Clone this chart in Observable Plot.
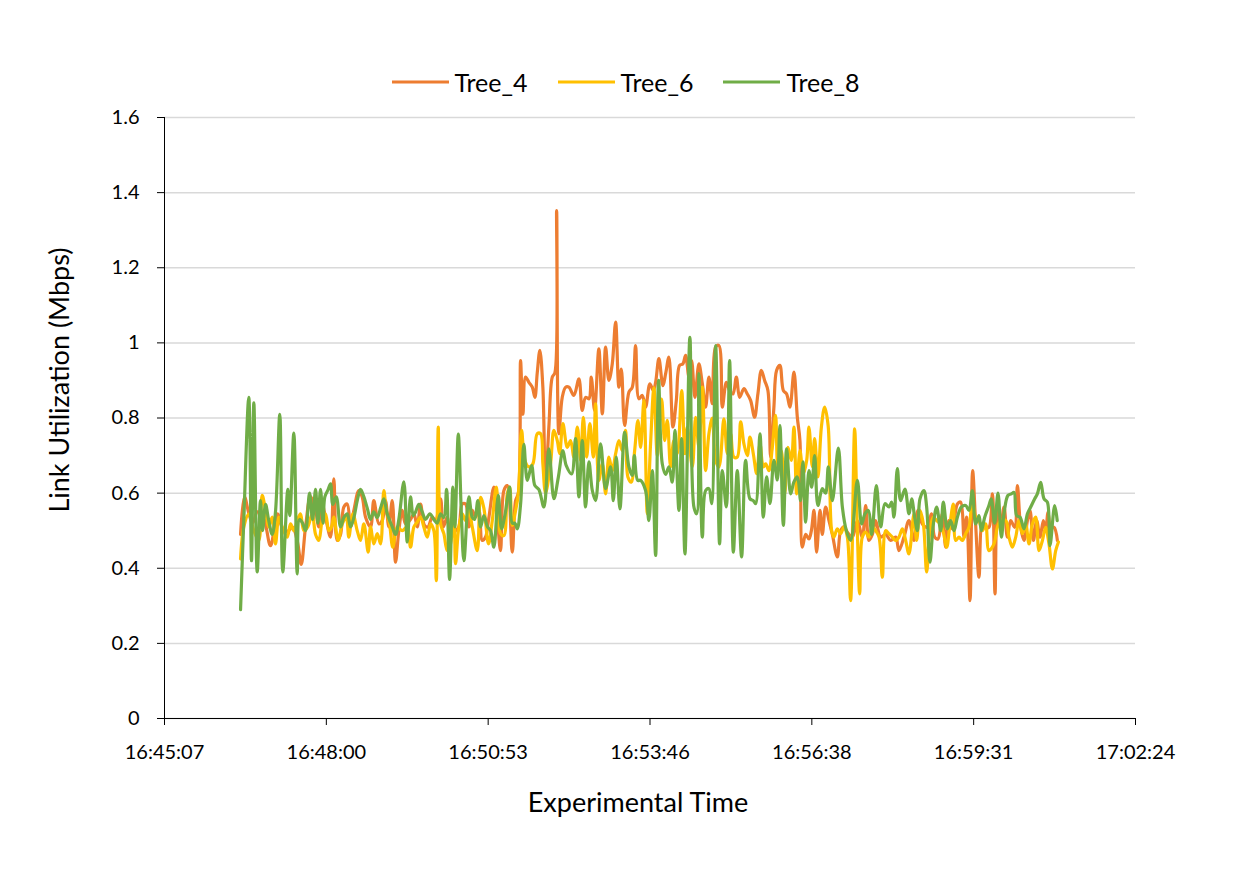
<!DOCTYPE html>
<html><head><meta charset="utf-8">
<script src="https://cdn.jsdelivr.net/npm/d3@7"></script>
<script src="https://cdn.jsdelivr.net/npm/@observablehq/plot@0.6"></script>
<style>
body{margin:0;background:#fff;font-family:Lato,"Open Sans",sans-serif;color:#000;}
#legend{position:relative;width:1241px;height:100px;}
#legend .row{position:absolute;left:10px;right:0;top:82px;transform:translateY(-50%);display:flex;justify-content:center;align-items:center;}
#legend .item{display:flex;align-items:center;margin:0 15px;font-size:25px;line-height:1;}
#legend .sw{display:inline-block;width:57px;height:3px;margin-right:6px;}
</style></head><body>
<div id="legend"><div class="row"></div></div>
<div id="chart"></div>
<script>
// Series names & colours
const seriesNames = ["Tree_4", "Tree_6", "Tree_8"];
const seriesColors = ["#ED7D31", "#FFC000", "#70AD47"];
// Axis ticks (x in seconds since 16:45:07; major unit = 172.8 s)
const xTickLabels = ["16:45:07", "16:48:00", "16:50:53", "16:53:46", "16:56:38", "16:59:31", "17:02:24"];
const xTickStep = 172.8;
const yTicks = [0, 0.2, 0.4, 0.6, 0.8, 1.0, 1.2, 1.4, 1.6];

// [seconds since 16:45:07, Mbps]
const tree4 = [[81.2,0.49],[85.4,0.59],[89.7,0.55],[94.0,0.52],[99.3,0.55],[105.7,0.535],[113.2,0.46],[120.7,0.545],[127.1,0.50],[132.4,0.50],[136.7,0.51],[142.0,0.47],[146.0,0.41],[150.6,0.51],[155.9,0.59],[161.3,0.554],[164.8,0.51],[168.4,0.571],[171.9,0.535],[177.3,0.483],[180.8,0.638],[184.4,0.474],[188.0,0.49],[191.5,0.563],[195.1,0.571],[198.6,0.51],[202.2,0.554],[207.5,0.607],[211.1,0.59],[214.7,0.536],[220.0,0.51],[223.5,0.58],[228.9,0.518],[232.5,0.527],[236.0,0.58],[239.5,0.51],[243.2,0.58],[246.7,0.416],[250.2,0.50],[253.9,0.554],[257.4,0.518],[262.7,0.53],[266.3,0.545],[269.9,0.51],[273.4,0.571],[277.7,0.514],[281.2,0.51],[285.9,0.536],[289.4,0.527],[294.8,0.585],[297.6,0.51],[301.9,0.536],[305.4,0.483],[310.8,0.50],[314.3,0.51],[317.9,0.571],[321.5,0.571],[325.0,0.51],[328.6,0.554],[332.1,0.536],[335.7,0.554],[339.3,0.474],[342.8,0.483],[346.4,0.536],[351.7,0.616],[355.3,0.536],[358.8,0.447],[362.4,0.607],[366.0,0.62],[371.3,0.443],[374.9,0.58],[377.8,0.60],[380.2,0.953],[382.7,0.81],[385.5,0.909],[389.1,0.895],[392.7,0.882],[395.5,0.855],[398.0,0.92],[400.8,0.98],[404.0,0.882],[406.9,0.625],[410.4,0.775],[414.1,0.909],[416.8,0.92],[418.7,1.352],[421.1,0.758],[424.7,0.855],[428.3,0.882],[431.8,0.882],[437.1,0.86],[442.5,0.904],[446.1,0.82],[449.6,0.855],[453.2,0.851],[455.7,0.909],[459.2,0.82],[463.8,0.984],[467.5,0.811],[471.0,0.989],[474.5,0.90],[478.1,0.944],[481.7,1.055],[485.2,0.882],[487.8,0.93],[491.3,0.78],[495.9,0.869],[499.5,0.882],[503.0,0.993],[506.6,0.851],[510.2,0.86],[513.7,0.829],[518.3,0.891],[521.9,0.873],[524.4,0.895],[527.9,0.958],[532.2,0.886],[535.1,0.918],[538.6,0.962],[542.9,0.776],[546.5,0.847],[550.0,0.94],[553.5,0.944],[556.4,0.967],[560.0,0.909],[562.8,0.953],[566.4,0.855],[570.6,0.944],[574.3,0.891],[577.8,0.829],[581.3,0.909],[584.9,0.838],[588.5,0.989],[592.0,0.993],[595.6,0.829],[599.9,0.895],[603.4,0.873],[607.0,0.864],[610.6,0.909],[614.1,0.855],[618.7,0.878],[622.3,0.864],[625.8,0.847],[630.1,0.802],[633.6,0.864],[637.3,0.927],[640.8,0.90],[644.3,0.873],[647.2,0.696],[650.7,0.829],[653.6,0.927],[657.1,0.94],[660.8,0.873],[664.3,0.864],[667.8,0.829],[672.1,0.922],[675.7,0.802],[678.5,0.74],[681.1,0.456],[684.6,0.49],[688.1,0.478],[690.7,0.50],[693.5,0.554],[696.3,0.443],[699.9,0.554],[702.4,0.49],[705.9,0.563],[709.5,0.527],[713.1,0.49],[718.4,0.43],[722.0,0.50],[725.5,0.51],[729.1,0.496],[734.5,0.483],[739.8,0.527],[745.1,0.483],[748.7,0.567],[752.2,0.474],[755.8,0.49],[759.3,0.527],[764.7,0.483],[770.0,0.49],[775.4,0.474],[780.7,0.483],[784.2,0.447],[789.6,0.483],[794.9,0.527],[800.3,0.474],[804.5,0.554],[809.2,0.518],[814.6,0.509],[818.8,0.545],[822.4,0.483],[825.9,0.478],[830.6,0.545],[834.1,0.456],[837.6,0.527],[841.3,0.505],[846.6,0.571],[850.1,0.576],[853.7,0.483],[856.5,0.536],[860.1,0.314],[862.9,0.66],[866.1,0.518],[869.7,0.376],[873.3,0.518],[876.8,0.509],[880.3,0.509],[884.0,0.598],[886.8,0.332],[889.3,0.554],[892.8,0.51],[896.4,0.563],[900.0,0.483],[903.5,0.527],[907.8,0.509],[910.7,0.62],[914.2,0.509],[917.7,0.474],[921.4,0.527],[924.1,0.554],[927.8,0.474],[931.3,0.527],[934.8,0.483],[938.4,0.527],[940.9,0.50],[943.4,0.549],[946.2,0.509],[949.8,0.509],[953.4,0.474]];

const tree6 = [[81.2,0.425],[84.7,0.51],[90.0,0.545],[95.4,0.50],[100.7,0.474],[104.3,0.594],[107.9,0.554],[111.4,0.51],[115.0,0.536],[118.5,0.465],[122.1,0.536],[125.7,0.51],[131.0,0.483],[134.6,0.518],[138.1,0.50],[141.7,0.527],[145.2,0.545],[148.8,0.50],[153.0,0.51],[157.7,0.545],[161.3,0.49],[164.8,0.474],[168.4,0.527],[171.9,0.545],[175.5,0.50],[178.4,0.51],[180.8,0.536],[185.5,0.474],[189.8,0.518],[194.1,0.536],[196.8,0.483],[201.1,0.545],[205.8,0.50],[209.3,0.474],[212.9,0.518],[217.5,0.443],[220.0,0.51],[223.5,0.465],[227.2,0.492],[230.7,0.465],[234.2,0.607],[236.8,0.554],[240.3,0.518],[243.8,0.456],[248.5,0.51],[253.9,0.50],[259.2,0.51],[262.7,0.456],[266.3,0.51],[269.9,0.523],[273.4,0.536],[276.9,0.51],[280.6,0.483],[284.1,0.518],[287.6,0.50],[290.2,0.367],[292.3,0.776],[294.8,0.518],[298.3,0.492],[301.9,0.447],[305.4,0.465],[309.0,0.554],[310.8,0.412],[314.3,0.51],[317.9,0.545],[321.5,0.527],[325.0,0.554],[328.6,0.51],[334.0,0.447],[337.5,0.589],[341.0,0.56],[346.0,0.465],[350.0,0.527],[354.3,0.616],[358.8,0.492],[362.4,0.487],[366.0,0.598],[368.5,0.616],[371.3,0.514],[374.9,0.554],[377.8,0.598],[381.3,0.767],[384.8,0.687],[389.1,0.67],[393.3,0.678],[398.0,0.758],[401.6,0.758],[404.0,0.678],[406.9,0.60],[412.2,0.678],[415.8,0.767],[419.4,0.74],[421.9,0.705],[425.4,0.785],[430.1,0.722],[433.6,0.74],[437.1,0.696],[440.8,0.776],[444.3,0.687],[447.2,0.802],[450.7,0.696],[454.2,0.785],[457.9,0.696],[460.3,0.838],[463.8,0.634],[467.5,0.678],[471.0,0.598],[474.5,0.696],[478.1,0.66],[481.7,0.705],[485.2,0.74],[488.8,0.713],[492.3,0.767],[494.8,0.643],[498.4,0.629],[502.0,0.713],[505.5,0.793],[508.4,0.722],[511.9,0.847],[515.5,0.545],[519.0,0.731],[522.6,0.88],[526.2,0.70],[530.8,0.85],[534.0,0.74],[536.9,0.794],[540.4,0.67],[543.9,0.74],[547.6,0.705],[552.2,0.873],[555.7,0.705],[558.2,0.776],[563.6,0.67],[567.1,0.802],[570.6,0.722],[574.3,0.882],[577.8,0.66],[581.3,0.758],[584.9,0.80],[588.5,0.687],[592.0,0.67],[597.3,0.798],[601.0,0.705],[604.5,0.758],[608.0,0.696],[611.6,0.696],[615.2,0.79],[618.7,0.731],[622.3,0.70],[625.1,0.749],[628.7,0.705],[632.3,0.652],[635.8,0.731],[639.4,0.67],[641.9,0.678],[645.4,0.66],[649.0,0.722],[652.5,0.807],[655.0,0.67],[658.6,0.713],[662.2,0.598],[665.7,0.722],[669.3,0.687],[672.1,0.776],[675.0,0.598],[678.5,0.713],[682.1,0.652],[685.7,0.687],[688.1,0.776],[691.7,0.67],[694.2,0.745],[697.7,0.643],[701.4,0.776],[704.9,0.829],[708.6,0.78],[712.4,0.50],[714.8,0.483],[718.4,0.505],[722.0,0.492],[725.5,0.51],[729.1,0.483],[732.6,0.314],[736.9,0.771],[739.8,0.50],[742.3,0.332],[745.1,0.483],[748.7,0.496],[752.2,0.483],[755.8,0.51],[759.3,0.50],[762.9,0.483],[766.5,0.376],[770.0,0.50],[773.5,0.492],[777.2,0.483],[780.7,0.474],[784.2,0.483],[787.9,0.505],[791.4,0.474],[794.9,0.438],[800.3,0.545],[803.1,0.474],[806.7,0.554],[810.3,0.518],[813.8,0.39],[817.3,0.50],[821.0,0.536],[824.5,0.527],[828.0,0.518],[831.6,0.496],[835.2,0.456],[838.7,0.518],[842.3,0.571],[844.8,0.474],[848.3,0.483],[851.9,0.474],[855.5,0.492],[859.0,0.509],[862.6,0.58],[866.1,0.536],[869.7,0.527],[873.3,0.50],[876.8,0.518],[880.3,0.447],[885.7,0.465],[889.3,0.509],[892.8,0.527],[898.2,0.527],[901.7,0.483],[905.3,0.456],[908.9,0.483],[912.4,0.527],[916.0,0.492],[919.5,0.518],[923.1,0.465],[926.7,0.518],[930.2,0.536],[933.8,0.447],[937.4,0.474],[940.9,0.509],[944.4,0.465],[948.1,0.398],[951.6,0.447],[954.5,0.47]];

const tree8 = [[81.2,0.29],[84.7,0.53],[90.0,0.855],[92.9,0.42],[95.4,0.84],[99.0,0.39],[102.5,0.58],[104.7,0.50],[107.9,0.57],[111.1,0.53],[115.0,0.49],[118.5,0.55],[123.1,0.81],[126.3,0.39],[131.7,0.61],[133.8,0.54],[138.1,0.76],[141.7,0.385],[144.2,0.53],[147.4,0.52],[150.6,0.50],[154.9,0.60],[158.1,0.53],[161.3,0.61],[163.7,0.52],[166.6,0.61],[169.3,0.52],[171.2,0.59],[174.8,0.61],[177.3,0.625],[179.7,0.57],[183.4,0.59],[188.0,0.51],[191.5,0.535],[195.1,0.545],[198.6,0.51],[202.2,0.535],[205.8,0.58],[209.3,0.61],[212.9,0.59],[216.5,0.56],[220.0,0.53],[223.5,0.55],[227.2,0.535],[230.7,0.56],[234.2,0.585],[237.8,0.545],[243.2,0.51],[246.7,0.49],[250.2,0.53],[255.6,0.63],[259.2,0.47],[262.7,0.59],[265.6,0.54],[268.1,0.55],[271.6,0.57],[275.2,0.55],[278.7,0.53],[283.3,0.545],[287.6,0.53],[291.2,0.52],[294.8,0.545],[298.3,0.535],[301.2,0.61],[304.4,0.37],[307.9,0.616],[310.0,0.51],[313.7,0.757],[316.9,0.55],[319.7,0.42],[325.0,0.59],[328.6,0.536],[331.1,0.53],[334.6,0.58],[337.5,0.51],[341.0,0.54],[345.0,0.51],[348.2,0.50],[351.7,0.456],[356.4,0.594],[359.9,0.505],[363.4,0.54],[368.5,0.616],[371.3,0.52],[374.1,0.52],[376.7,0.505],[380.2,0.57],[383.7,0.73],[387.4,0.634],[392.0,0.673],[395.5,0.62],[399.7,0.61],[405.1,0.563],[410.4,0.718],[415.8,0.585],[420.5,0.642],[425.4,0.713],[429.0,0.673],[434.7,0.651],[438.9,0.745],[442.5,0.59],[446.1,0.74],[449.6,0.563],[453.2,0.683],[456.8,0.607],[460.3,0.58],[465.6,0.731],[471.0,0.612],[476.3,0.67],[479.2,0.58],[482.4,0.696],[486.3,0.558],[491.3,0.762],[495.9,0.67],[499.5,0.647],[501.7,0.70],[505.2,0.634],[508.4,0.634],[513.7,0.607],[517.2,0.527],[520.9,0.66],[524.4,0.434],[527.6,0.90],[531.5,0.678],[535.1,0.65],[538.6,0.67],[542.2,0.629],[545.0,0.767],[549.3,0.554],[552.2,0.745],[555.7,0.438],[561.0,1.015],[565.3,0.563],[568.2,0.545],[570.6,0.918],[574.3,0.483],[577.8,0.607],[581.3,0.612],[584.2,0.572],[588.5,0.993],[592.7,0.465],[595.6,0.66],[599.9,0.563],[603.4,0.953],[607.4,0.443],[611.6,0.66],[616.2,0.43],[620.5,0.687],[625.1,0.585],[628.7,0.58],[631.2,0.572],[635.8,0.758],[639.4,0.536],[642.9,0.643],[646.5,0.572],[650.7,0.687],[654.4,0.635],[657.1,0.78],[660.8,0.514],[664.3,0.718],[668.6,0.598],[672.1,0.63],[675.7,0.643],[679.2,0.58],[681.7,0.683],[684.6,0.523],[688.1,0.66],[691.0,0.616],[694.2,0.70],[697.7,0.567],[702.4,0.612],[705.9,0.60],[708.8,0.67],[713.1,0.58],[719.5,0.72],[723.8,0.563],[728.1,0.50],[732.6,0.474],[739.8,0.634],[744.4,0.518],[747.9,0.545],[751.6,0.554],[755.1,0.49],[760.1,0.62],[764.7,0.51],[769.3,0.572],[773.5,0.563],[776.4,0.576],[778.9,0.536],[782.5,0.665],[786.0,0.58],[790.6,0.611],[794.9,0.545],[797.8,0.585],[801.0,0.536],[803.9,0.50],[806.7,0.585],[810.9,0.607],[813.8,0.563],[817.3,0.416],[821.0,0.518],[824.5,0.563],[828.8,0.50],[831.6,0.576],[835.9,0.505],[839.4,0.527],[843.0,0.50],[846.6,0.536],[850.9,0.563],[855.5,0.567],[859.0,0.554],[862.6,0.607],[866.1,0.518],[869.7,0.54],[872.2,0.50],[875.8,0.536],[880.3,0.567],[882.7,0.585],[886.4,0.52],[890.0,0.60],[893.6,0.483],[896.4,0.545],[900.6,0.594],[904.3,0.598],[907.1,0.602],[909.9,0.54],[913.5,0.536],[917.7,0.505],[921.4,0.545],[924.9,0.563],[929.2,0.585],[932.0,0.598],[935.6,0.629],[939.1,0.585],[942.7,0.576],[945.5,0.46],[950.5,0.567],[953.2,0.527]];

const seriesData = [tree4, tree6, tree8];
const xTicks = xTickLabels.map((_, i) => i * xTickStep);
const fmtX = d => xTickLabels[Math.round(d / xTickStep)];
const fmtY = d => String(+d.toFixed(1));

// Legend
const row = document.querySelector("#legend .row");
seriesNames.forEach((n, i) => {
  const it = document.createElement("div");
  it.className = "item";
  it.innerHTML = `<span class="sw" style="background:${seriesColors[i]}"></span><span>${n}</span>`;
  row.appendChild(it);
});

const lineMarks = seriesData.map((s, i) =>
  Plot.line(s, {x: d => d[0], y: d => d[1], stroke: seriesColors[i], strokeWidth: 3.2,
    curve: "catmull-rom", strokeLinejoin: "round", strokeLinecap: "round"}));

const chart = Plot.plot({
  width: 1241, height: 774,
  marginTop: 17, marginBottom: 156, marginLeft: 164, marginRight: 106,
  style: {fontFamily: "Lato, 'Open Sans', sans-serif", fontSize: "20px", color: "#000", background: "#fff"},
  x: {type: "linear", domain: [0, xTickStep * 6]},
  y: {domain: [0, 1.6]},
  marks: [
    Plot.gridY(yTicks, {stroke: "#d9d9d9", strokeOpacity: 1, strokeWidth: 1.5}),
    Plot.axisY(yTicks, {tickSize: 7, tickPadding: 18, tickFormat: fmtY, label: null, stroke: "#000"}),
    Plot.axisX(xTicks, {tickSize: 7, tickPadding: 19, tickFormat: fmtX, label: null, stroke: "#000"}),
    Plot.ruleX([0], {stroke: "#000", strokeWidth: 1}),
    Plot.ruleY([0], {stroke: "#000", strokeWidth: 1}),
    ...lineMarks,
    Plot.text(["Link Utilization (Mbps)"], {text: d => d, frameAnchor: "left", textAnchor: "middle", lineAnchor: "middle", rotate: -90, dx: -104, dy: -38, fontSize: 27}),
    Plot.text(["Experimental Time"], {text: d => d, frameAnchor: "bottom", textAnchor: "middle", lineAnchor: "middle", dx: -12, dy: 85, fontSize: 27})
  ]
});
document.getElementById("chart").appendChild(chart);
</script>
</body></html>
